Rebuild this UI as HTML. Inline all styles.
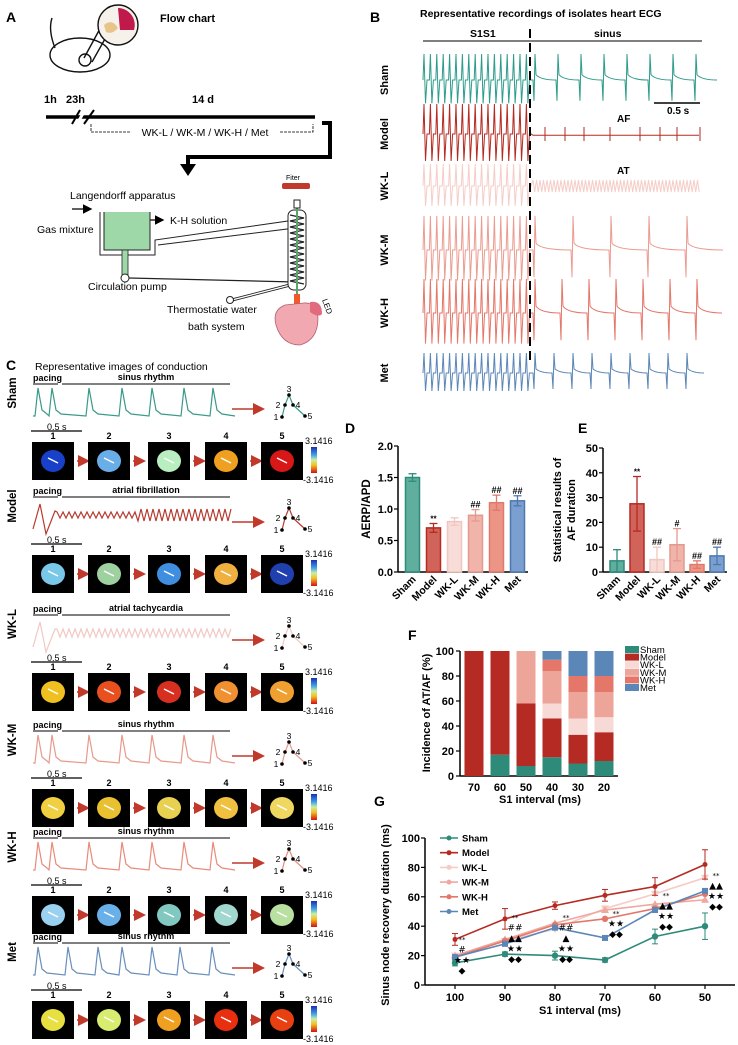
<!DOCTYPE html>
<html><head><meta charset="utf-8"><style>
html,body{margin:0;padding:0;background:#fff}
svg{display:block;font-family:"Liberation Sans",Arial,sans-serif}
</style></head><body>
<svg id="fig" width="738" height="1045" viewBox="0 0 738 1045" xmlns="http://www.w3.org/2000/svg">
<defs>
<linearGradient id="cbar" x1="0" y1="0" x2="0" y2="1">
<stop offset="0" stop-color="#1a2fb5"/><stop offset="0.3" stop-color="#3fa0e8"/><stop offset="0.5" stop-color="#c8f0a0"/><stop offset="0.7" stop-color="#f5c020"/><stop offset="1" stop-color="#d41010"/>
</linearGradient>
<marker id="arrR" markerWidth="8" markerHeight="8" refX="6" refY="4" orient="auto"><path d="M0,0 L8,4 L0,8 z" fill="#c0392b"/></marker>
<marker id="arrK" markerWidth="8" markerHeight="8" refX="6" refY="4" orient="auto"><path d="M0,0 L8,4 L0,8 z" fill="#000"/></marker>
</defs>

<!-- PANEL A -->
<g>
<text x="6" y="22" font-size="14" font-weight="bold">A</text>
<text x="160" y="22" font-size="11" font-weight="bold">Flow chart</text>
<g fill="none" stroke="#111" stroke-width="1.4">
<ellipse cx="80" cy="55" rx="30" ry="17"/>
<path d="M55,48 Q48,30 52,18"/>
<circle cx="85" cy="60" r="6"/>
<line x1="84" y1="58" x2="102" y2="25"/>
<line x1="92" y1="62" x2="110" y2="30"/>
<circle cx="118" cy="25" r="20" fill="#f6f1ea"/>
<path d="M118,8 A17,17 0 0 1 134,30 L120,30 Z" fill="#c0194b" stroke="none"/>
<path d="M104,25 Q112,18 118,28 Q112,35 106,32" fill="#e7c58a" stroke="none"/>
</g>
<text x="44" y="103" font-size="11" font-weight="bold">1h</text>
<text x="66" y="103" font-size="11" font-weight="bold">23h</text>
<text x="192" y="103" font-size="11" font-weight="bold">14 d</text>
<line x1="46" y1="117" x2="315" y2="117" stroke="#000" stroke-width="3.5"/>
<line x1="72" y1="124" x2="80" y2="110" stroke="#000" stroke-width="2"/><line x1="77" y1="124" x2="85" y2="110" stroke="#fff" stroke-width="3"/>
<line x1="84" y1="124" x2="94" y2="110" stroke="#000" stroke-width="2"/>
<path d="M91,124 L91,132 L130,132 M280,132 L313,132 L313,124" fill="none" stroke="#000" stroke-width="0.8" stroke-dasharray="3,1"/>
<text x="205" y="136" font-size="10.5" text-anchor="middle">WK-L / WK-M / WK-H / Met</text>
<path d="M322,123 L330,123 L330,157 L188,157 L188,168" fill="none" stroke="#000" stroke-width="4"/>
<path d="M180,164 L196,164 L188,176 z" fill="#000"/>
<text x="70" y="199" font-size="10.5">Langendorff apparatus</text>
<text x="37" y="233" font-size="10.5">Gas mixture</text>
<text x="170" y="224" font-size="10.5">K-H solution</text>
<text x="88" y="290" font-size="10.5">Circulation pump</text>
<text x="167" y="313" font-size="10.5">Thermostatie water</text>
<text x="188" y="330" font-size="10.5">bath system</text>
<text x="286" y="180" font-size="7">Fiter</text>
<rect x="282" y="183" width="28" height="6" fill="#c0392b" rx="2"/>
<line x1="72" y1="209" x2="90" y2="209" stroke="#000" stroke-width="1.2" marker-end="url(#arrK)"/>
<line x1="145" y1="220" x2="162" y2="220" stroke="#000" stroke-width="1.2" marker-end="url(#arrK)"/>
<path d="M104,212 L104,250 L150,250 L150,212" fill="#9fd8a8" stroke="#222" stroke-width="1"/>
<path d="M100,212 L100,255 L155,255 L155,240 L295,220 L295,228 L158,245" fill="none" stroke="#222" stroke-width="1"/>
<rect x="122" y="250" width="6" height="28" fill="#9fd8a8" stroke="#222" stroke-width="0.8"/>
<circle cx="125" cy="278" r="4" fill="#fff" stroke="#222"/>
<line x1="129" y1="278" x2="295" y2="282" stroke="#222" stroke-width="1.2"/>
<line x1="232" y1="300" x2="290" y2="285" stroke="#222" stroke-width="3"/><line x1="232" y1="300" x2="290" y2="285" stroke="#fff" stroke-width="1.4"/>
<circle cx="230" cy="300" r="3.5" fill="#fff" stroke="#222"/>
<rect x="288" y="210" width="18" height="80" rx="6" fill="#fff" stroke="#222"/>
<path d="M290,215 L304,218 L290,221 L304,224 L290,227 L304,230 L290,233 L304,236 L290,239 L304,242 L290,245 L304,248 L290,251 L304,254 L290,257 L304,260 L290,263 L304,266 L290,269 L304,272 L290,275 L304,278 L290,281 L304,284" fill="none" stroke="#222" stroke-width="1.2"/>
<line x1="297" y1="205" x2="297" y2="295" stroke="#5aa56a" stroke-width="2"/>
<rect x="294" y="200" width="6" height="8" fill="#fff" stroke="#222"/>
<rect x="294" y="294" width="6" height="10" fill="#f05a28"/>
<path d="M285,305 Q272,310 276,325 Q282,345 300,345 Q318,340 318,318 Q316,302 304,303 Z" fill="#f2a8b0" stroke="#b36070" stroke-width="0.8"/>
<path d="M310,302 Q322,300 322,314 Q318,318 310,312 Z" fill="#e26a7e"/>
<text x="322" y="300" font-size="8" transform="rotate(70 322 300)">LED</text>
</g>

<!-- PANEL B -->
<g>
<text x="370" y="22" font-size="14" font-weight="bold">B</text>
<text x="420" y="17" font-size="10.5" font-weight="bold">Representative recordings of isolates heart ECG</text>
<text x="470" y="37" font-size="10.5" font-weight="bold">S1S1</text>
<text x="594" y="37" font-size="10.5" font-weight="bold">sinus</text>
<line x1="423" y1="41" x2="702" y2="41" stroke="#000" stroke-width="1"/>
<g id="ecgB"></g>
<line x1="530" y1="29" x2="530" y2="362" stroke="#000" stroke-width="2" stroke-dasharray="9,5"/>
<line x1="654" y1="103" x2="700" y2="103" stroke="#000" stroke-width="1.5"/>
<text x="667" y="114" font-size="10" font-weight="bold">0.5 s</text>
<text x="617" y="122" font-size="10" font-weight="bold">AF</text>
<text x="617" y="174" font-size="10" font-weight="bold">AT</text>
</g>

<!-- PANEL C -->
<g>
<text x="6" y="370" font-size="14" font-weight="bold">C</text>
<text x="35" y="370" font-size="10.5">Representative images of conduction</text>
<g id="rowsC"></g>
</g>

<g>
<text x="345" y="433" font-size="14" font-weight="bold">D</text>
<g id="chartD"></g>
</g>
<g>
<text x="578" y="433" font-size="14" font-weight="bold">E</text>
<g id="chartE"></g>
</g>
<g>
<text x="408" y="640" font-size="14" font-weight="bold">F</text>
<g id="chartF"></g>
</g>
<g>
<text x="374" y="806" font-size="14" font-weight="bold">G</text>
<g id="chartG"></g>
</g>
</svg>
<script>
const NS="http://www.w3.org/2000/svg";
function mk(parent,tag,attrs,text){const e=document.createElementNS(NS,tag);for(const k in attrs)e.setAttribute(k,attrs[k]);if(text!==undefined)e.textContent=text;parent.appendChild(e);return e;}

const groups=["Sham","Model","WK-L","WK-M","WK-H","Met"];
const fillCol=["#5fae9e","#d0645a","#f8dcd8","#f1b4aa","#ec9586","#7a9fd0"];
const edgeCol=["#2e8b7a","#b52a22","#f0c6c0","#e39a8e","#df7a6c","#4f78ad"];

// Panel D data
const dMeans=[1.50,0.70,0.80,0.90,1.10,1.13];
const dErr=[0.06,0.07,0.06,0.09,0.12,0.08];
const dMarks=["","**","","##","##","##"];
const dTicks=[0,0.5,1.0,1.5,2.0];
// Panel E data
const eMeans=[4.5,27.5,5.0,11.0,3.0,6.5];
const eErr=[4.5,11.0,5.0,6.5,1.5,3.5];
const eMarks=["","**","##","#","##","##"];
const eTicks=[0,10,20,30,40,50];
// Panel F data
const fCats=["70","60","50","40","30","20"];
const fSham=[0,17,8,15,10,12];
const fModel=[100,83,50,31,23,23];
const fWKL=[0,0,0,12,13,12];
const fWKM=[0,0,42,26,21,20];
const fWKH=[0,0,0,9,13,13];
const fMet=[0,0,0,7,20,20];
const fTicks=[0,20,40,60,80,100];
// Panel G data
const gCats=["100","90","80","70","60","50"];
const gSham=[15,21,20,17,33,40];
const gModel=[31,45,54,61,67,82];
const gWKL=[20,30,38,52,62,73];
const gWKM=[20,31,42,51,55,58];
const gWKH=[19,30,41,45,52,62];
const gMet=[19,28,39,32,51,64];
const gShamErr=[2,1.5,3,1.5,5,9];
const gModelErr=[4,7,2.5,4,6,10];
const gTicks=[0,20,40,60,80,100];

function barChart(id,x0,x1,yTop,yBot,vmax,means,errs,marks,ticks,tickFmt){
  const g=document.getElementById(id);
  const y=v=>yBot-(v/vmax)*(yBot-yTop);
  const step=(x1-x0-4)/means.length;
  const cx=i=>x0+10+step*i+step/2-6;
  mk(g,"line",{x1:x0,y1:yTop,x2:x0,y2:yBot,stroke:"#000","stroke-width":1.5});
  mk(g,"line",{x1:x0,y1:yBot,x2:x1,y2:yBot,stroke:"#000","stroke-width":1.5});
  ticks.forEach(t=>{mk(g,"line",{x1:x0-4,y1:y(t),x2:x0,y2:y(t),stroke:"#000","stroke-width":1.2});
    const tl=mk(g,"text",{x:x0-5,y:y(t)+4,"font-size":11,"font-weight":"bold","text-anchor":"end"},tickFmt(t));
    
    });
  means.forEach((m,i)=>{
    const b=mk(g,"rect",{x:cx(i)-7,y:y(m),width:14,height:yBot-y(m),fill:fillCol[i],stroke:edgeCol[i],"stroke-width":1.5});
    
    
    const lo=Math.max(0,m-errs[i]),hi=m+errs[i];
    mk(g,"line",{x1:cx(i),y1:y(hi),x2:cx(i),y2:y(lo),stroke:edgeCol[i],"stroke-width":1.3});
    mk(g,"line",{x1:cx(i)-4,y1:y(hi),x2:cx(i)+4,y2:y(hi),stroke:edgeCol[i],"stroke-width":1.3});
    mk(g,"line",{x1:cx(i)-4,y1:y(lo),x2:cx(i)+4,y2:y(lo),stroke:edgeCol[i],"stroke-width":1.3});
    if(marks[i]) mk(g,"text",{x:cx(i),y:y(hi)-2,"font-size":marks[i]==="**"?8:9,"font-weight":"bold","text-anchor":"middle"},marks[i]);
    const xl=mk(g,"text",{x:cx(i)+4,y:yBot+8,"font-size":10.5,"font-weight":"bold","text-anchor":"end",transform:`rotate(-45 ${cx(i)+4} ${yBot+8})`},groups[i]);
    
    
  });
}
barChart("chartD",398,528,446,572,2.0,dMeans,dErr,dMarks,dTicks,t=>t.toFixed(1));
barChart("chartE",603,727,448,572,50,eMeans,eErr,eMarks,eTicks,t=>String(t));
(function(){const g=document.getElementById("chartD");
 const t=mk(g,"text",{x:370,y:509,"font-size":11.5,"font-weight":"bold","text-anchor":"middle",transform:"rotate(-90 370 509)"},"AERP/APD");
 
 const ge=document.getElementById("chartE");
 const a=mk(ge,"text",{x:561,y:510,"font-size":11,"font-weight":"bold","text-anchor":"middle",transform:"rotate(-90 561 510)"},"Statistical results of");
 
 mk(ge,"text",{x:575,y:510,"font-size":11,"font-weight":"bold","text-anchor":"middle",transform:"rotate(-90 575 510)"},"AF duration");
})();

(function(){
  const g=document.getElementById("chartF");
  const x0=460,x1=618,yTop=651,yBot=776;
  const y=v=>yBot-(v/100)*(yBot-yTop);
  const cx=i=>474+26*i;
  mk(g,"line",{x1:x0,y1:yTop,x2:x0,y2:yBot,stroke:"#000","stroke-width":1.5});
  mk(g,"line",{x1:x0,y1:yBot,x2:x1,y2:yBot,stroke:"#000","stroke-width":1.5});
  fTicks.forEach(t=>{mk(g,"line",{x1:x0-4,y1:y(t),x2:x0,y2:y(t),stroke:"#000","stroke-width":1.2});
    mk(g,"text",{x:x0-6,y:y(t)+4,"font-size":11,"font-weight":"bold","text-anchor":"end"},String(t));});
  const series=[fSham,fModel,fWKL,fWKM,fWKH,fMet];
  const cols=["#2e8b7a","#b52a22","#f7d9d6","#eda59a","#e4776a","#5b86b8"];
  fCats.forEach((c,i)=>{
    let acc=0;
    series.forEach((s,k)=>{ if(s[i]>0){
      const r=mk(g,"rect",{x:cx(i)-9.5,y:y(acc+s[i]),width:19,height:y(acc)-y(acc+s[i]),fill:cols[k]});
      
      
      acc+=s[i];}});
    const tl=mk(g,"text",{x:cx(i),y:791,"font-size":11,"font-weight":"bold","text-anchor":"middle"},c);
    
  });
  groups.forEach((n,k)=>{
    const le=mk(g,"rect",{x:625,y:646+k*7.6,width:14,height:7,fill:cols[k]});
    
    mk(g,"text",{x:640,y:653+k*7.6,"font-size":9.5},n);
  });
  const t=mk(g,"text",{x:430,y:713,"font-size":11,"font-weight":"bold","text-anchor":"middle",transform:"rotate(-90 430 713)"},"Incidence of AT/AF (%)");
  
  const xt=mk(g,"text",{x:540,y:803,"font-size":11,"font-weight":"bold","text-anchor":"middle"},"S1 interval (ms)");
  
})();

(function(){
  const g=document.getElementById("chartG");
  const x0=425,x1=735,yTop=838,yBot=985;
  const y=v=>yBot-(v/100)*(yBot-yTop);
  const cx=i=>455+50*i;
  mk(g,"line",{x1:x0,y1:yTop,x2:x0,y2:yBot,stroke:"#000","stroke-width":1.5});
  mk(g,"line",{x1:x0,y1:yBot,x2:x1,y2:yBot,stroke:"#000","stroke-width":1.5});
  gTicks.forEach(t=>{mk(g,"line",{x1:x0-4,y1:y(t),x2:x0,y2:y(t),stroke:"#000","stroke-width":1.2});
    mk(g,"text",{x:x0-5,y:y(t)+4,"font-size":11,"font-weight":"bold","text-anchor":"end"},String(t));});
  gCats.forEach((c,i)=>{mk(g,"line",{x1:cx(i),y1:yBot,x2:cx(i),y2:yBot+4,stroke:"#000","stroke-width":1.2});
    const tl=mk(g,"text",{x:cx(i),y:1001,"font-size":11,"font-weight":"bold","text-anchor":"middle"},c);
    });
  const series=[gSham,gModel,gWKL,gWKM,gWKH,gMet];
  const cols=["#2e8b7a","#b52a22","#f6cbc6","#eea89e","#e4776a","#5b86b8"];
  const errs=[gShamErr,gModelErr,null,null,null,null];
  const order=[2,3,4,5,0,1];
  order.forEach(k=>{
    const s=series[k];
    const pl=mk(g,"polyline",{points:s.map((v,i)=>cx(i)+","+y(v)).join(" "),fill:"none",stroke:cols[k],"stroke-width":1.6});
    
    
    s.forEach((v,i)=>{
      if(errs[k]){const e=errs[k][i];
        mk(g,"line",{x1:cx(i),y1:y(v+e),x2:cx(i),y2:y(v-e),stroke:cols[k],"stroke-width":1});
        mk(g,"line",{x1:cx(i)-3,y1:y(v+e),x2:cx(i)+3,y2:y(v+e),stroke:cols[k],"stroke-width":1});
        mk(g,"line",{x1:cx(i)-3,y1:y(v-e),x2:cx(i)+3,y2:y(v-e),stroke:cols[k],"stroke-width":1});}
      let p;
      if(k===5) p=mk(g,"rect",{x:cx(i)-3,y:y(v)-3,width:6,height:6,fill:cols[k]});
      else if(k===3) p=mk(g,"path",{d:`M${cx(i)},${y(v)-4} L${cx(i)+4},${y(v)+3} L${cx(i)-4},${y(v)+3}z`,fill:cols[k]});
      else if(k===2) p=mk(g,"path",{d:`M${cx(i)},${y(v)+4} L${cx(i)+4},${y(v)-3} L${cx(i)-4},${y(v)-3}z`,fill:cols[k]});
      else p=mk(g,"circle",{cx:cx(i),cy:y(v),r:k===1?2.5:3.2,fill:cols[k]});
      
      
    });
  });
  groups.forEach((n,k)=>{
    const ly=838+k*14.7;
    const le=mk(g,"line",{x1:440,y1:ly,x2:458,y2:ly,stroke:cols[k],"stroke-width":1.6});
    
    mk(g,"circle",{cx:449,cy:ly,r:2.5,fill:cols[k]});
    mk(g,"text",{x:462,y:ly+3.5,"font-size":9.5,"font-weight":"bold"},n);
  });
  const ann=[[462,942,["**","#","★★","◆"]],[515,920,["**","##","▲▲","★★","◆◆"]],[566,920,["**","##","▲","★★","◆◆"]],[616,916,["**","★★","◆◆"]],[666,898,["**","▲▲","★★","◆◆"]],[716,878,["**","▲▲","★★","◆◆"]]];
  ann.forEach(a=>{a[2].forEach((s,j)=>mk(g,"text",{x:a[0],y:a[1]+j*10.5,"font-size":s.startsWith("*")?7:9,"text-anchor":"middle","font-family":"DejaVu Sans, sans-serif"},s));});
  const t=mk(g,"text",{x:389,y:915,"font-size":11,"font-weight":"bold","text-anchor":"middle",transform:"rotate(-90 389 915)"},"Sinus node recovery duration (ms)");
  
  const xt=mk(g,"text",{x:580,y:1014,"font-size":11,"font-weight":"bold","text-anchor":"middle"},"S1 interval (ms)");
  
})();

(function(){
  const g=document.getElementById("ecgB");
  const rows=[[80,"#2e9c8a",26,"sinus",23],[134,"#b52a22",30,"af",0],[186,"#f5cdc8",22,"at",0],[250,"#eb9c90",34,"sinus",38],[313,"#e4776a",34,"sinus",27],[373,"#5b86b8",20,"sinus",19]];
  const lbl=["Sham","Model","WK-L","WK-M","WK-H","Met"];
  rows.forEach((r,ri)=>{
    const [yc,col,amp,type,per]=r;
    const t=mk(g,"text",{x:388,y:yc,"font-size":11,"font-weight":"bold","text-anchor":"middle",transform:`rotate(-90 388 ${yc})`},lbl[ri]);
    
    let d=`M423,${yc}`;
    for(let x=423;x<529;x+=6.4){d+=` L${x+1},${yc-amp} L${x+2.5},${yc+amp*0.9} L${x+4},${yc} L${x+6.4},${yc}`;}
    let d2=`M531,${yc}`;
    if(type==="sinus"){for(let x=533;x<700;x+=per){d2+=` L${x},${yc} L${x+1},${yc+amp*0.8} L${x+2},${yc-amp} L${x+3},${yc-amp*0.2} Q${x+8},${yc} ${x+per},${yc}`;}}
    else if(type==="af"){for(let x=533;x<700;x+=2){d2+=` L${x},${yc+((x%4)?1.2:-1.2)}`;}
      [545,565,584,610,640,660,677,700].forEach(x=>{d2+=` M${x},${yc} L${x},${yc-7} L${x},${yc+7} M${x},${yc}`;});}
    else {for(let x=533;x<700;x+=3.5){d2+=` L${x},${yc-6} L${x+1.7},${yc+6}`;}}
    const p=mk(g,"path",{d:d+" "+d2,fill:"none",stroke:col,"stroke-width":1});
    
    
  });
})();

(function(){
  const g=document.getElementById("rowsC");
  const rowP=[381,494,612,728,835,940];
  const names=["Sham","Model","WK-L","WK-M","WK-H","Met"];
  const rhythm=["sinus rhythm","atrial fibrillation","atrial tachycardia","sinus rhythm","sinus rhythm","sinus rhythm"];
  const traceCol=["#3a9a8a","#b83a30","#f2c8c2","#e7998c","#e98a7c","#6a8fbb"];
  const blob=[["#1840c8","#6aaee8","#b8eec0","#f0a020","#d81818"],["#7ac8e8","#9fd0a0","#3f8ee0","#f0b040","#2040b0"],["#f0c020","#e85020","#d83020","#f09030","#f0a030"],["#f0d040","#e8c030","#e8d050","#f0c040","#f0d860"],["#9ad0f0","#6ab0e8","#80c8c0","#a0d8d0","#b8e0a0"],["#e8e040","#d8ec70","#f0a020","#e83010","#e84010"]];
  const imgX=[32,88,148,205,261];
  rowP.forEach((P,ri)=>{
    const lab=mk(g,"text",{x:16,y:P+12,"font-size":11.5,"font-weight":"bold","text-anchor":"middle",transform:`rotate(-90 16 ${P+12})`},names[ri]);
    
    mk(g,"text",{x:33,y:P,"font-size":9,"font-weight":"bold"},"pacing");
    mk(g,"line",{x1:33,y1:P+3,x2:58,y2:P+3,stroke:"#000","stroke-width":1});
    mk(g,"line",{x1:62,y1:P+3,x2:230,y2:P+3,stroke:"#000","stroke-width":1});
    mk(g,"text",{x:146,y:P-1,"font-size":9,"font-weight":"bold","text-anchor":"middle"},rhythm[ri]);
    const base=P+35;let d=`M33,${base}`;
    if(ri===1||ri===2){
      d+=` L40,${base-25} L46,${base+5} L55,${base-18}`;
      for(let x=57;x<234;x+=3){const a=ri===1?(x>135?12:6):8;d+=` L${x},${base-14-((x/3)%2?a:-a)*0.5}`;}
    } else {
      const pk=ri===5?[38,68,98,122,152,180,212]:[38,52,89,122,152,184,213];
      pk.forEach(x=>{d+=` L${x-3},${base} L${x},${base-28} L${x+4},${base-6} L${x+9},${base-2}`;});
      d+=` L235,${base}`;
    }
    const tr=mk(g,"path",{d:d,fill:"none",stroke:traceCol[ri],"stroke-width":1.2});
    
    mk(g,"line",{x1:31,y1:P+50,x2:82,y2:P+50,stroke:"#000","stroke-width":1.2});
    mk(g,"text",{x:47,y:P+49,"font-size":9},"0.5 s");
    mk(g,"line",{x1:232,y1:P+28,x2:262,y2:P+28,stroke:"#c0392b","stroke-width":1.5,"marker-end":"url(#arrR)"});
    const m=P+18;
    const pts=[[282,m+18],[285,m+6],[289,m-4],[293,m+6],[305,m+17]];
    mk(g,"polyline",{points:pts.map(p=>p.join(",")).join(" "),fill:"none",stroke:traceCol[ri],"stroke-width":1.2});
    pts.forEach((p,k)=>{mk(g,"circle",{cx:p[0],cy:p[1],r:1.8,fill:"#000"});
      mk(g,"text",{x:p[0]+(k===0?-6:k===1?-7:k===2?0:5),y:p[1]+(k===2?-3:3),"font-size":8.5,"text-anchor":"middle"},String(k+1));});
    imgX.forEach((x,k)=>{
      mk(g,"text",{x:x+21,y:P+58,"font-size":9,"font-weight":"bold","text-anchor":"middle"},String(k+1));
      const im=mk(g,"rect",{x:x,y:P+61,width:42,height:38,fill:"#000"});
      
      mk(g,"ellipse",{cx:x+21,cy:P+80,rx:12,ry:11,fill:blob[ri][k]});
      mk(g,"line",{x1:x+16,y1:P+77,x2:x+26,y2:P+82,stroke:"#fff","stroke-width":1.5});
      if(k<4) mk(g,"line",{x1:x+45,y1:P+80,x2:x+55,y2:P+80,stroke:"#c0392b","stroke-width":1.5,"marker-end":"url(#arrR)"});
    });
    mk(g,"rect",{x:311,y:P+66,width:6,height:26,fill:"url(#cbar)"});
    mk(g,"text",{x:305,y:P+63,"font-size":9},"3.1416");
    mk(g,"text",{x:303,y:P+102,"font-size":9},"-3.1416");
  });
})();
</script>
</body></html>
